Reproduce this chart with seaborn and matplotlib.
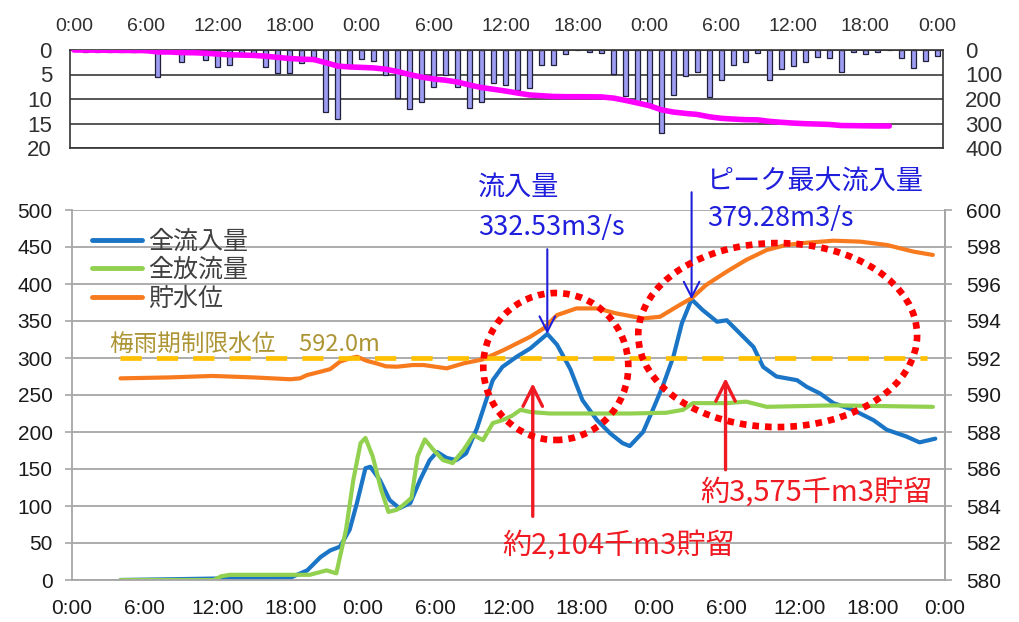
import numpy as np
import matplotlib
matplotlib.use("Agg")
import matplotlib.pyplot as plt
from matplotlib.patches import Ellipse
from matplotlib.lines import Line2D
import seaborn as sns

# ---- hourly rainfall (mm), one value per hour from 0 to 72 ----
rain_hours = list(range(73))
rain_mm = [0, 0.4, 0.4, 0.4, 0.4, 0.4, 0.4, 5.5, 0.3, 2.5,
           0.5, 2.0, 3.4, 3.0, 1.2, 1.2, 3.4, 4.7, 4.7, 2.7,
           1.5, 12.7, 14.0, 3.5, 1.8, 2.2, 5.2, 9.8, 12.0, 10.6,
           7.5, 5.1, 7.6, 11.9, 10.6, 6.8, 7.2, 8.2, 7.8, 3.1,
           3.1, 0.8, 0.0, 0.4, 0.6, 4.8, 9.3, 10.7, 11.0, 16.9,
           9.2, 5.4, 4.4, 9.6, 6.1, 3.1, 2.4, 0.7, 6.1, 3.9,
           3.3, 2.4, 1.4, 1.7, 4.4, 0.5, 0.8, 0.5, 0.0, 1.7,
           3.7, 2.2, 1.2]
cum_last_hour = 68  # cumulative rainfall is shown up to this hour

# ---- total inflow (m3/s) ----
inflow_h = [4, 8, 12, 16, 18, 19.4, 20.5, 21.3, 22.1, 22.9, 23.5, 24.2, 24.6,
            25.4, 26.2, 27.0, 27.9, 28.7, 29.5, 30.1, 30.9, 31.7, 32.5, 33.4,
            34.2, 34.7, 35.5, 36.7, 37.8, 39.2, 40.0, 41.1, 42.1, 43.3, 44.4,
            45.4, 46.0, 47.1, 47.9, 48.7, 49.6, 50.3, 51.1, 52.0, 53.2, 54.0,
            55.1, 56.2, 57.0, 58.1, 59.8, 60.6, 61.7, 62.8, 64.4, 66.1, 67.2,
            68.8, 69.9, 71.2]
inflow_v = [0, 1, 2, 2, 3, 13, 31, 40, 45, 68, 104, 151, 153,
            135, 108, 97, 104, 135, 162, 173, 165, 162, 171, 205,
            245, 270, 288, 302, 313, 332.53, 318, 285, 243, 216, 198,
            185, 181, 200, 230, 261, 302, 347, 379.28, 365, 349, 351,
            333, 315, 288, 275, 270, 261, 252, 239, 230, 216, 203,
            194, 186, 191]

# ---- total outflow (m3/s) ----
outflow_h = [4, 11.7, 12.3, 13, 19.6, 21.0, 21.8, 22.6, 23.2, 23.8, 24.2, 24.8,
             25.5, 26.1, 26.8, 27.3, 28.0, 28.5, 29.1, 29.8, 30.6, 31.4, 32.3,
             33.1, 33.9, 34.7, 35.5, 36.3, 37.0, 37.8, 39.4, 43.5, 46.0, 49.0,
             50.4, 51.2, 54.0, 55.6, 57.3, 62.8, 71.0]
outflow_v = [0, 0, 5, 7, 7, 13, 9, 68, 135, 185, 192, 167,
             122, 92, 95, 101, 111, 167, 190, 176, 162, 158, 176,
             196, 189, 212, 216, 222, 230, 227, 225, 225, 225, 226,
             230, 239, 239, 241, 234, 236, 234]

# ---- reservoir water level (m) ----
level_h = [4, 8, 11.6, 15, 18, 18.8, 19.4, 20.5, 21.3, 22.1, 22.9, 23.5, 24.3,
           25.1, 25.9, 26.8, 28.1, 29.0, 30.9, 32.3, 33.9, 35.6, 36.7, 37.8,
           38.9, 40.0, 41.6, 43.3, 44.9, 47.1, 48.5, 50.1, 51.1, 52.3, 54.0,
           55.6, 57.3, 58.9, 60.6, 62.8, 65.0, 67.2, 69.4, 71.0]
level_m = [590.90, 590.95, 591.03, 590.95, 590.85, 590.90, 591.08, 591.26,
           591.40, 591.80, 591.98, 592.07, 591.85, 591.71, 591.55, 591.53,
           591.62, 591.62, 591.44, 591.71, 591.93, 592.43, 592.79, 593.15,
           593.60, 594.32, 594.68, 594.68, 594.41, 594.14, 594.23, 594.86,
           595.23, 595.95, 596.67, 597.30, 597.84, 598.11, 598.23, 598.34,
           598.29, 598.11, 597.75, 597.57]

limit_level = 592.0          # rainy-season restricted water level (m)
limit_span = (4, 70.5)

hour_ticks = list(range(0, 73, 6))
hour_labels = ["0:00", "6:00", "12:00", "18:00"] * 3 + ["0:00"]

legend_labels = ["全流入量", "全放流量", "貯水位"]
limit_text = "梅雨期制限水位　592.0m"
peak1_title, peak1_value = "流入量", "332.53m3/s"
peak2_title, peak2_value = "ピーク最大流入量", "379.28m3/s"
store1_text = "約2,104千m3貯留"
store2_text = "約3,575千m3貯留"

# ---- style ----
sns.set_style("white")
plt.rcParams["font.family"] = ["Liberation Sans", "Noto Sans CJK JP", "DejaVu Sans"]
JP = ["Noto Sans CJK JP", "DejaVu Sans"]

C_IN = "#1B75C6"
C_OUT = "#92D050"
C_LVL = "#F77B1E"
C_LIM = "#FFC000"
C_GRID = "#A6A6A6"
C_BLUE_TXT = "#1E1EDC"
C_RED = "#F01A22"

fig = plt.figure(figsize=(10.2, 6.22), dpi=100)

# ================= rainfall panel =================
ax_r = fig.add_axes([70 / 1020, 1 - 148 / 622, 873 / 1020, 98 / 622])
sns.barplot(x=rain_hours, y=rain_mm, native_scale=True, width=0.42,
            orient="x", errorbar=None, color="#9C9CF2", saturation=1,
            edgecolor="#20203A", linewidth=0.9, ax=ax_r)
ax_r.set_ylim(20, 0)
ax_r.set_xlim(-0.33, 72.48)
ax_r.set_yticks([0, 5, 10, 15, 20])
ax_r.yaxis.grid(True, color="#3A3A3A", lw=1.2)
ax_r.set_axisbelow(True)
ax_r.xaxis.tick_top()
ax_r.set_xticks(hour_ticks)
ax_r.set_xticklabels(hour_labels)
ax_r.tick_params(axis="x", length=0, pad=11, labelsize=14, colors="#303030")
ax_r.tick_params(axis="y", length=0, pad=13, labelsize=16, colors="#303030")
ax_r.set_xlabel("")
ax_r.set_ylabel("")
for sp in ax_r.spines.values():
    sp.set_color("#333333")
    sp.set_linewidth(1.2)

ax_c = ax_r.twinx()
cum_rain = np.cumsum(rain_mm)[:cum_last_hour + 1]
sns.lineplot(x=rain_hours[:cum_last_hour + 1], y=cum_rain, color="#FF00FF",
             lw=4.0, ax=ax_c, legend=False)
ax_c.set_ylim(400, 0)
ax_c.set_yticks([0, 100, 200, 300, 400])
ax_c.tick_params(axis="y", length=0, pad=16, labelsize=16, colors="#303030")
ax_c.set_xlim(-0.33, 72.48)
ax_c.set_ylabel("")
for sp in ax_c.spines.values():
    sp.set_visible(False)

# ================= flow / water level panel =================
ax = fig.add_axes([72 / 1020, 1 - 580 / 622, 873 / 1020, 370 / 622])
sns.lineplot(x=inflow_h, y=inflow_v, color=C_IN, lw=3.0, ax=ax, legend=False)
sns.lineplot(x=outflow_h, y=outflow_v, color=C_OUT, lw=3.0, ax=ax, legend=False)
ax.set_xlim(0, 72)
ax.set_ylim(0, 500)
ax.set_yticks(range(0, 501, 50))
ax.set_xticks(hour_ticks)
ax.set_xticklabels(hour_labels)
ax.yaxis.grid(True, color=C_GRID, lw=1.3)
ax.xaxis.grid(False)
ax.set_axisbelow(True)
ax.set_xlabel("")
ax.set_ylabel("")
ax.tick_params(axis="both", direction="out", length=5, width=1.2,
               color=C_GRID, labelsize=15, labelcolor="#1A1A1A")
ax.tick_params(axis="y", pad=9)
ax.tick_params(axis="x", pad=9)
ax.spines["top"].set_visible(False)
for s in ("left", "bottom", "right"):
    ax.spines[s].set_color(C_GRID)
    ax.spines[s].set_linewidth(1.3)

ax2 = ax.twinx()
sns.lineplot(x=level_h, y=level_m, color=C_LVL, lw=3.0, ax=ax2, legend=False)
ax2.plot(limit_span, [limit_level, limit_level], color=C_LIM, lw=3.4,
         dashes=(4.5, 3.2), solid_capstyle="butt")
ax2.set_ylim(580, 600)
ax2.set_yticks(range(580, 601, 2))
ax2.set_ylabel("")
ax2.tick_params(axis="y", direction="out", length=5, width=1.2,
                color=C_GRID, labelsize=15, labelcolor="#1A1A1A", pad=10)
for s in ("top", "left", "bottom"):
    ax2.spines[s].set_visible(False)
ax2.spines["right"].set_color(C_GRID)
ax2.spines["right"].set_linewidth(1.3)

# limit label
ax2.text(3.1, 317.6, limit_text, transform=ax.transData, family=JP,
         fontsize=17, color="#AD9535", va="center", ha="left")

# legend
handles = [Line2D([], [], color=C_IN, lw=3.5),
           Line2D([], [], color=C_OUT, lw=3.5),
           Line2D([], [], color=C_LVL, lw=3.5)]
leg = ax2.legend(handles, legend_labels, loc="upper left",
                 bbox_to_anchor=(0.023, 0.95), frameon=False,
                 prop={"family": JP, "size": 18}, handlelength=2.0,
                 handletextpad=0.25, labelspacing=0.1, borderpad=0,
                 borderaxespad=0)
for t in leg.get_texts():
    t.set_color("#404040")

# dotted ellipses around the two storage periods
for (cx, cy, w, h) in [(39.9, 288.5, 11.96, 198.6), (58.2, 331.0, 23.0, 248.6)]:
    ax2.add_patch(Ellipse((cx, cy), w, h, transform=ax.transData, fill=False,
                          edgecolor="#FF0000", lw=4.8,
                          linestyle=(0, (1, 0.9)), zorder=5))

# blue peak annotations
blue_arrow = dict(arrowstyle="->,head_length=0.55,head_width=0.28",
                  color=C_BLUE_TXT, lw=1.5, shrinkA=0, shrinkB=0,
                  mutation_scale=20)
ax2.annotate("", xy=(39.2, 332.53), xycoords=ax.transData,
             xytext=(39.2, 447), textcoords=ax.transData,
             arrowprops=blue_arrow, annotation_clip=False)
ax2.annotate("", xy=(51.1, 379.28), xycoords=ax.transData,
             xytext=(51.1, 524), textcoords=ax.transData,
             arrowprops=blue_arrow, annotation_clip=False)
ax2.text(33.5, 531, peak1_title, transform=ax.transData, family=JP,
         fontsize=19.5, color=C_BLUE_TXT, va="center", ha="left", clip_on=False)
ax2.text(33.5, 476, peak1_value, transform=ax.transData, family=JP,
         fontsize=19.5, color=C_BLUE_TXT, va="center", ha="left", clip_on=False)
ax2.text(52.3, 538, peak2_title, transform=ax.transData, family=JP,
         fontsize=19.5, color=C_BLUE_TXT, va="center", ha="left", clip_on=False)
ax2.text(52.4, 488, peak2_value, transform=ax.transData, family=JP,
         fontsize=19.5, color=C_BLUE_TXT, va="center", ha="left", clip_on=False)

# red storage annotations
red_arrow = dict(arrowstyle="->,head_length=0.7,head_width=0.35",
                 color=C_RED, lw=2.4, shrinkA=0, shrinkB=0, mutation_scale=20)
ax2.annotate("", xy=(38.0, 266), xycoords=ax.transData,
             xytext=(38.0, 86), textcoords=ax.transData, arrowprops=red_arrow)
ax2.annotate("", xy=(53.9, 273), xycoords=ax.transData,
             xytext=(53.9, 149), textcoords=ax.transData, arrowprops=red_arrow)
ax2.text(35.5, 47, store1_text, transform=ax.transData, family=JP,
         fontsize=21, color=C_RED, va="center", ha="left")
ax2.text(51.8, 118, store2_text, transform=ax.transData, family=JP,
         fontsize=21, color=C_RED, va="center", ha="left")

ax2.set_xlim(0, 72)
ax2.set_ylim(580, 600)

fig.savefig("out.png", dpi=100)
